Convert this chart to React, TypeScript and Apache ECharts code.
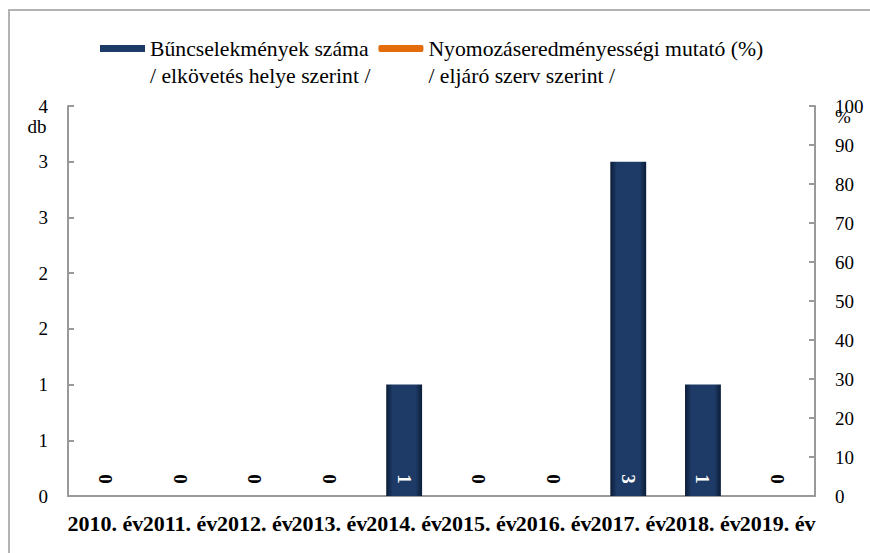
import React, { useEffect, useRef } from "react";
import * as echarts from "echarts";

const categories = [
  "2010. év", "2011. év", "2012. év", "2013. év", "2014. év",
  "2015. év", "2016. év", "2017. év", "2018. év", "2019. év",
];
const crimeCounts = [0, 0, 0, 0, 1, 0, 0, 3, 1, 0];
const clearanceRate: (number | null)[] = [null, null, null, null, null, null, null, null, null, null];
const seriesNames = [
  "Bűncselekmények száma\n/ elkövetés helye szerint /",
  "Nyomozáseredményességi mutató (%)\n/ eljáró szerv szerint /",
];

const FONT = "Liberation Serif";

export default function App() {
  const ref = useRef<HTMLDivElement>(null);
  useEffect(() => {
    if (!ref.current) return;
    const chart = echarts.init(ref.current, null, { renderer: "svg" });
    const barColor = new echarts.graphic.LinearGradient(0, 0, 1, 0, [
      { offset: 0, color: "#0b1d38" },
      { offset: 0.18, color: "#1d3b66" },
      { offset: 0.82, color: "#1d3b66" },
      { offset: 1, color: "#0b1d38" },
    ]);
    chart.setOption({
      animation: false,
      backgroundColor: "#ffffff",
      textStyle: { fontFamily: FONT },
      graphic: [
        {
          type: "rect",
          shape: { x: 9, y: 10, width: 900, height: 600 },
          style: { fill: "none", stroke: "#b3b3b3", lineWidth: 2 },
          silent: true,
        },
      ],
      legend: {
        left: 100,
        top: 8,
        padding: 0,
        itemGap: 8,
        itemWidth: 45,
        itemHeight: 7,
        formatter: (name: string) => "\n" + name,
        textStyle: {
          fontFamily: FONT,
          fontSize: 21.7,
          color: "#000",
          lineHeight: 27,
        },
        data: [
          { name: seriesNames[0], icon: "rect", itemStyle: { color: "#1d3b66" } },
          { name: seriesNames[1], icon: "roundRect", itemStyle: { color: "#e46c0a" } },
        ],
      },
      grid: { left: 68, right: 55, top: 106, bottom: 57 },
      xAxis: {
        type: "category",
        data: categories,
        boundaryGap: true,
        axisLine: { lineStyle: { color: "#999999", width: 2 } },
        axisTick: { show: false },
        axisLabel: {
          interval: 0,
          margin: 16,
          fontFamily: FONT,
          fontSize: 22,
          fontWeight: "bold",
          color: "#000",
        },
      },
      yAxis: [
        {
          type: "value",
          min: 0,
          max: 3.5,
          interval: 0.5,
          name: "db",
          nameLocation: "end",
          nameGap: -30,
          nameMoveOverlap: false,
          nameTextStyle: { fontFamily: FONT, fontSize: 19, color: "#000", padding: [0, 62, 0, 0] },
          axisLine: { show: true, lineStyle: { color: "#999999", width: 2 } },
          axisTick: { show: true, inside: true, length: 6, lineStyle: { color: "#999999", width: 2 } },
          splitLine: { show: false },
          axisLabel: {
            margin: 20,
            fontFamily: FONT,
            fontSize: 19,
            color: "#000",
            formatter: (v: number) => String(Math.round(v)),
          },
        },
        {
          type: "value",
          min: 0,
          max: 100,
          interval: 10,
          name: "%",
          nameLocation: "end",
          nameGap: -20,
          nameMoveOverlap: false,
          nameTextStyle: { fontFamily: FONT, fontSize: 19, color: "#000", padding: [0, 0, 0, 56] },
          axisLine: { show: true, lineStyle: { color: "#999999", width: 2 } },
          axisTick: { show: true, inside: true, length: 6, lineStyle: { color: "#999999", width: 2 } },
          splitLine: { show: false },
          axisLabel: { margin: 20, fontFamily: FONT, fontSize: 19, color: "#000" },
        },
      ],
      series: [
        {
          name: seriesNames[0],
          type: "bar",
          yAxisIndex: 0,
          barWidth: "48%",
          itemStyle: { color: barColor },
          label: {
            show: true,
            position: ["50%", "100%"],
            offset: [-17, 0],
            align: "center",
            verticalAlign: "middle",
            rotate: -90,
            fontFamily: FONT,
            fontSize: 19,
            fontWeight: "bold",
          },
          data: crimeCounts.map((v) => ({
            value: v,
            label: { color: v > 0 ? "#ffffff" : "#000000" },
          })),
        },
        {
          name: seriesNames[1],
          type: "line",
          yAxisIndex: 1,
          lineStyle: { color: "#e46c0a", width: 4 },
          itemStyle: { color: "#e46c0a" },
          showSymbol: false,
          data: clearanceRate,
        },
      ],
    });
    return () => chart.dispose();
  }, []);
  return (
    <div
      ref={ref}
      style={{ position: "fixed", left: 0, top: 0, width: 870, height: 553 }}
    />
  );
}
